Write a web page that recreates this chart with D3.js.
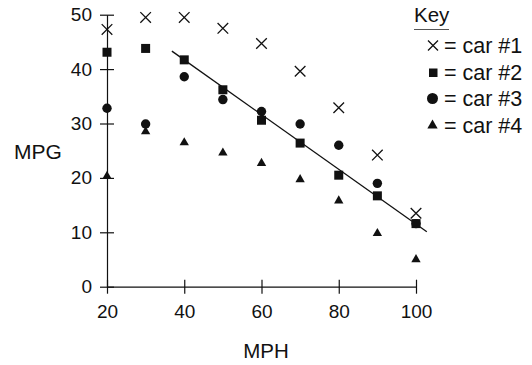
<!DOCTYPE html>
<html><head><meta charset="utf-8">
<script src="https://cdn.jsdelivr.net/npm/d3@7"></script>
<style>body{margin:0;background:#fff}svg{display:block}text{font-family:"Liberation Sans",Arial,Helvetica,sans-serif;fill:#111}</style>
</head><body><svg id="c" width="532" height="365"></svg>
<script>
const mph = [20,30,40,50,60,70,80,90,100];
const car1 = [47.3,49.5,49.5,47.5,44.7,39.6,32.9,24.2,13.5];
const car2 = [43.1,43.8,41.7,36.2,30.6,26.4,20.5,16.7,11.6];
const car3 = [32.8,29.9,38.6,34.4,32.2,29.9,26.0,19.0,11.6];
const car4 = [20.3,28.5,26.5,24.6,22.7,19.7,15.8,9.8,5.0];
const trendX = [36.8,102.8];
const trendY = [43.3,10.1];
const xTicks = [20,40,60,80,100];
const yTicks = [0,10,20,30,40,50];
const legendLabels = ["= car #1","= car #2","= car #3","= car #4"];

const svg = d3.select("#c");
const x = d3.scaleLinear().domain([20,100]).range([107,416]);
const y = d3.scaleLinear().domain([0,50]).range([286.7,14.7]);
const ink = "#111";

// axes
const gx = svg.append("g").attr("transform",`translate(0,${y(0)})`)
  .call(d3.axisBottom(x).tickValues(xTicks).tickSizeInner(7).tickSizeOuter(0).tickPadding(11));
gx.selectAll(".tick line").attr("y1",-7);
const gy = svg.append("g").attr("transform",`translate(${x(20)},0)`)
  .call(d3.axisLeft(y).tickValues(yTicks).tickSizeInner(7).tickSizeOuter(0).tickPadding(8));
gy.selectAll(".tick line").attr("x1",7);
[gx,gy].forEach(g=>{
  g.select(".domain").attr("stroke",ink).attr("stroke-width",1.2);
  g.selectAll(".tick line").attr("stroke",ink).attr("stroke-width",1.2);
  g.selectAll(".tick text").attr("font-size",19).style("font-family","'Liberation Sans',Arial,sans-serif").attr("fill",ink);
});

// axis titles
svg.append("text").attr("x",14).attr("y",159).attr("font-size",21).text("MPG");
svg.append("text").attr("x",266).attr("y",358).attr("font-size",20.5).attr("text-anchor","middle").text("MPH");

// trend line
svg.append("line").attr("x1",x(trendX[0])).attr("y1",y(trendY[0]))
  .attr("x2",x(trendX[1])).attr("y2",y(trendY[1])).attr("stroke",ink).attr("stroke-width",1.3);

function drawX(g,cx,cy,h){
  g.append("path").attr("d",`M${cx-h},${cy-h}L${cx+h},${cy+h}M${cx-h},${cy+h}L${cx+h},${cy-h}`)
   .attr("stroke",ink).attr("stroke-width",1.3).attr("fill","none");
}
const gp = svg.append("g");
mph.forEach((m,i)=>drawX(gp,x(m),y(car1[i]),5.3));
gp.selectAll("circle.c3").data(mph).join("circle").attr("class","c3")
  .attr("cx",d=>x(d)).attr("cy",(d,i)=>y(car3[i])).attr("r",4.7).attr("fill",ink);
gp.selectAll("rect.c2").data(mph).join("rect").attr("class","c2")
  .attr("x",d=>x(d)-4.5).attr("y",(d,i)=>y(car2[i])-4.5).attr("width",9).attr("height",9).attr("fill",ink);
const tri = d3.symbol().type(d3.symbolTriangle).size(38);
gp.selectAll("path.c4").data(mph).join("path").attr("class","c4")
  .attr("d",tri).attr("transform",(d,i)=>`translate(${x(d)},${y(car4[i])})`).attr("fill",ink);

// legend
const lg = svg.append("g");
lg.append("text").attr("x",414).attr("y",22).attr("font-size",20.5).text("Key");
lg.append("line").attr("x1",414).attr("x2",449).attr("y1",29.5).attr("y2",29.5).attr("stroke","#555").attr("stroke-width",1);
const rows = [45.5,72.5,98.5,125];
legendLabels.forEach((t,i)=>{
  lg.append("text").attr("x",444).attr("y",rows[i]+7.5).attr("font-size",21.5).text(t);
});
drawX(lg,433,rows[0],5);
lg.append("rect").attr("x",429).attr("y",rows[1]-4).attr("width",8.5).attr("height",8.5).attr("fill",ink);
lg.append("circle").attr("cx",432.5).attr("cy",rows[2]).attr("r",5.5).attr("fill",ink);
lg.append("path").attr("d",d3.symbol().type(d3.symbolTriangle).size(46)).attr("transform",`translate(432.5,${rows[3]+0.5})`).attr("fill",ink);
</script></body></html>
